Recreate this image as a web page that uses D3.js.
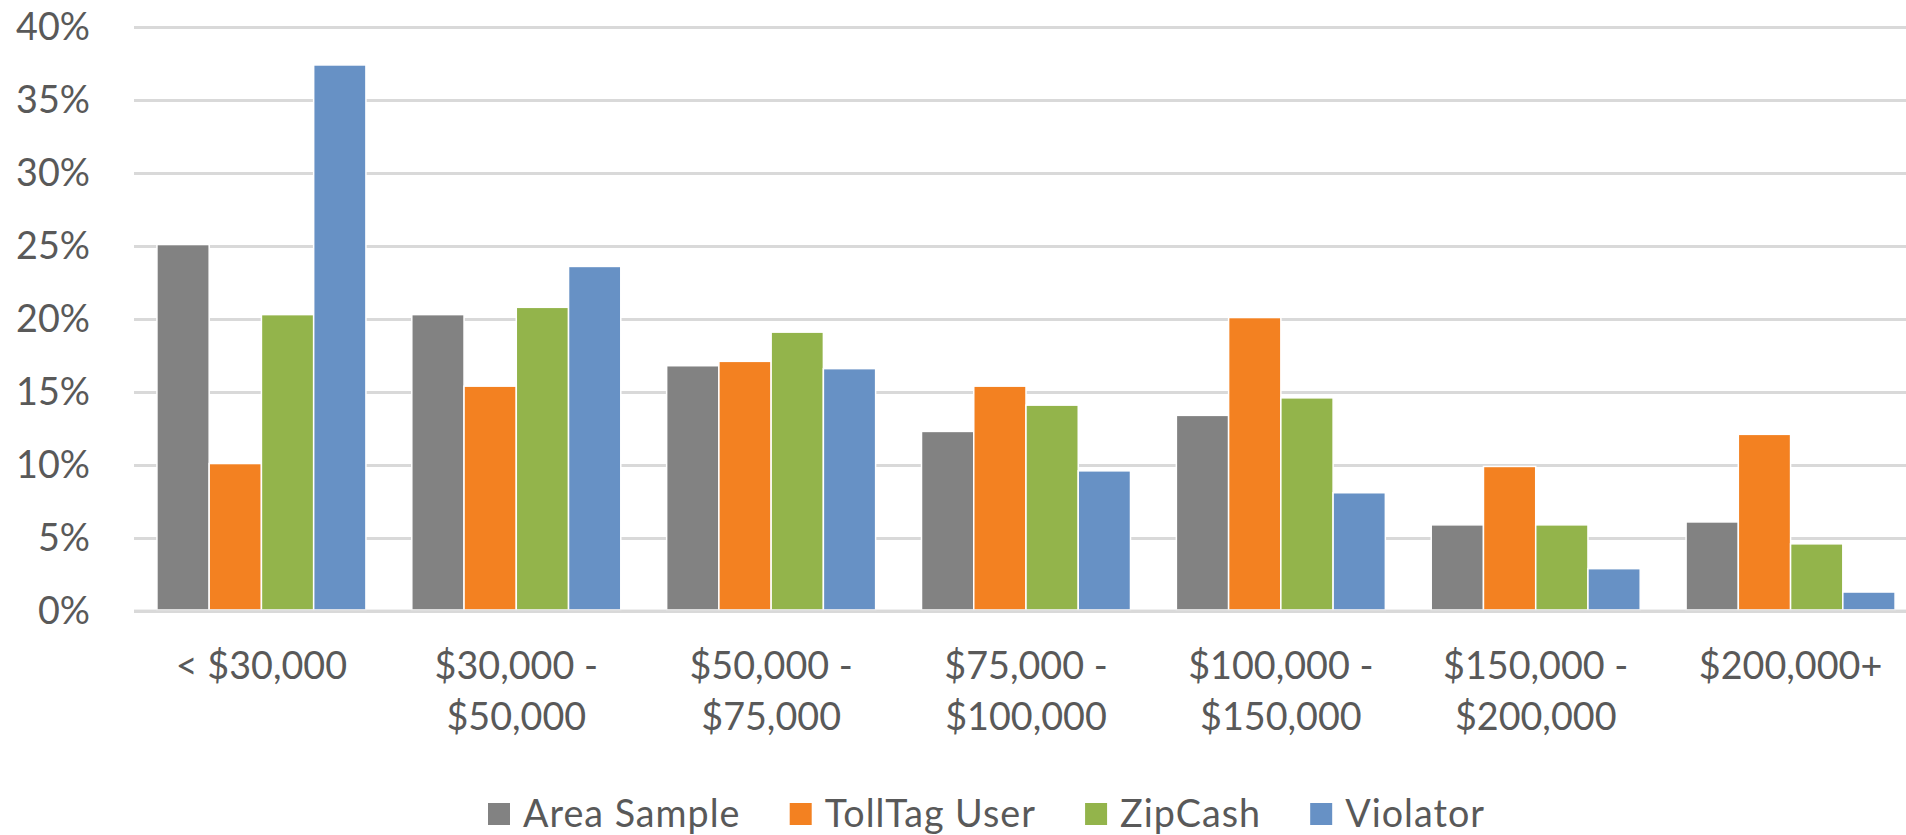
<!DOCTYPE html>
<html>
<head>
<meta charset="utf-8">
<script src="https://cdn.jsdelivr.net/npm/d3@7/dist/d3.min.js"></script>
<style>
  html, body { margin: 0; padding: 0; background: #ffffff; }
  svg { display: block; }
  text { font-family: Lato, "Open Sans", sans-serif; fill: #595959; }
</style>
</head>
<body>
<svg id="chart" width="1906" height="835"></svg>
<script>
// Household income distribution by customer type
const categories = [
  ["< $30,000"],
  ["$30,000 -", "$50,000"],
  ["$50,000 -", "$75,000"],
  ["$75,000 -", "$100,000"],
  ["$100,000 -", "$150,000"],
  ["$150,000 -", "$200,000"],
  ["$200,000+"]
];
const seriesNames = ["Area Sample", "TollTag User", "ZipCash", "Violator"];
const areaSample  = [0.251, 0.203, 0.168, 0.123, 0.134, 0.059, 0.061];
const tollTagUser = [0.101, 0.154, 0.171, 0.154, 0.201, 0.099, 0.121];
const zipCash     = [0.203, 0.208, 0.191, 0.141, 0.146, 0.059, 0.046];
const violator    = [0.374, 0.236, 0.166, 0.096, 0.081, 0.029, 0.013];
const colors = ["#828282", "#f38121", "#93b44b", "#6791c5"];
const yTicks = [0, 0.05, 0.10, 0.15, 0.20, 0.25, 0.30, 0.35, 0.40];

const seriesValues = [areaSample, tollTagUser, zipCash, violator];
const W = 1906, H = 835;
const svg = d3.select("#chart");

const plot = { left: 134, right: 1918, top: 27, bottom: 611 };
const FONT = 37.7;

const x0 = d3.scaleBand()
  .domain(d3.range(categories.length))
  .range([plot.left, plot.right])
  .paddingInner(0.18)
  .paddingOuter(0.09);

const x1 = d3.scaleBand()
  .domain(d3.range(seriesNames.length))
  .range([0, x0.bandwidth()]);

const y = d3.scaleLinear().domain([0, 0.4]).range([plot.bottom, plot.top]);

// horizontal gridlines
const yAxis = d3.axisLeft(y)
  .tickValues(yTicks)
  .tickSize(-(W - plot.left))
  .tickFormat(d => d3.format(".0%")(d));

const gAxis = svg.append("g")
  .attr("transform", `translate(${plot.left},0)`)
  .call(yAxis);
gAxis.select(".domain").remove();
gAxis.selectAll(".tick line")
  .attr("stroke", "#d9d9d9")
  .attr("stroke-width", 3);
gAxis.selectAll(".tick text")
  .attr("x", 90 - plot.left)
  .attr("dy", 12)
  .attr("text-anchor", "end")
  .style("font-size", FONT + "px")
  .style("font-family", "Lato, 'Open Sans', sans-serif")
  .attr("fill", "#595959");

// bars
const groups = svg.append("g")
  .selectAll("g")
  .data(categories.map((c, i) => i))
  .join("g")
  .attr("transform", i => `translate(${x0(i)},0)`);

groups.selectAll("rect")
  .data(i => seriesValues.map((vals, s) => ({ s, v: vals[i] })))
  .join("rect")
  .attr("x", d => x1(d.s))
  .attr("width", x1.bandwidth())
  .attr("y", d => y(d.v))
  .attr("height", d => y(0) - y(d.v) - 1)
  .attr("fill", d => colors[d.s])
  .attr("stroke", "#ffffff")
  .attr("stroke-width", 1.5);

// baseline over the bar feet
svg.append("line")
  .attr("x1", plot.left).attr("x2", W)
  .attr("y1", y(0)).attr("y2", y(0))
  .attr("stroke", "#d9d9d9")
  .attr("stroke-width", 3)
  .attr("opacity", 0.8);

// category labels
const xLabels = svg.append("g")
  .selectAll("text")
  .data(categories)
  .join("text")
  .attr("text-anchor", "middle")
  .attr("x", (d, i) => x0(i) + x0.bandwidth() / 2)
  .attr("y", 679)
  .style("font-size", FONT + "px");
xLabels.selectAll("tspan")
  .data(d => d)
  .join("tspan")
  .attr("x", function () { return this.parentNode.getAttribute("x"); })
  .attr("dy", (d, j) => j === 0 ? 0 : 51)
  .text(d => d);

// legend: swatch + label, spread between a fixed start and end
const legendStart = 488, legendEnd = 1485, keySize = 22, keyGap = 13;
const legend = svg.append("g");
const items = seriesNames.map((name, s) => {
  const item = legend.append("g");
  item.append("rect")
    .attr("x", 0).attr("y", 803)
    .attr("width", keySize).attr("height", keySize)
    .attr("fill", colors[s]);
  const t = item.append("text")
    .attr("x", keySize + keyGap).attr("y", 827)
    .style("font-size", FONT + "px")
    .style("letter-spacing", "1px")
    .text(name);
  return { item, w: keySize + keyGap + t.node().getComputedTextLength() };
});
const totalW = d3.sum(items, d => d.w);
const between = (legendEnd - legendStart - totalW) / (items.length - 1);
let lx = legendStart;
items.forEach(d => {
  d.item.attr("transform", `translate(${lx},0)`);
  lx += d.w + between;
});
</script>
</body>
</html>
